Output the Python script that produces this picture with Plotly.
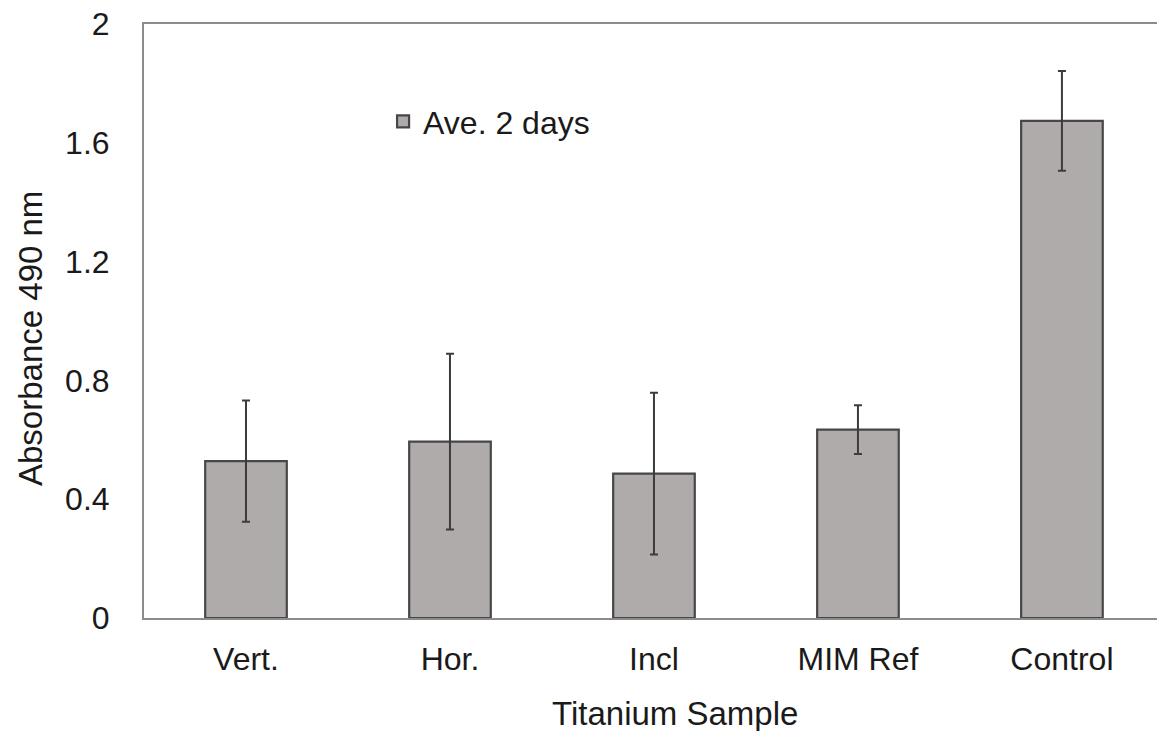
import plotly.graph_objects as go

categories = ["Vert.", "Hor.", "Incl", "MIM Ref", "Control"]
values = [0.528, 0.594, 0.486, 0.634, 1.674]
errors = [0.204, 0.296, 0.272, 0.082, 0.168]
series_name = "Ave. 2 days"
y_ticks = [0, 0.4, 0.8, 1.2, 1.6, 2]
y_tick_labels = ["0", "0.4", "0.8", "1.2", "1.6", "2"]

FONT = "Liberation Sans, Arial, sans-serif"
FS = 32
FT = 33

fig = go.Figure()
fig.add_trace(go.Bar(
    x=categories, y=values, name=series_name,
    width=0.4,
    marker=dict(color="#afabab", line=dict(color="#474747", width=2.2)),
    error_y=dict(type="data", array=errors, visible=True,
                 color="#3c3c3c", thickness=2, width=4),
    showlegend=True,
))

W, H = 1157, 731
L, T, B = 144, 24, 113
pw = W - L
ph = H - T - B

fig.update_layout(
    width=W, height=H,
    margin=dict(l=L, r=0, t=T, b=B),
    paper_bgcolor="white", plot_bgcolor="white",
    font=dict(family=FONT, size=FS, color="#1a1a1a"),
    showlegend=True,
    legend=dict(x=0.236, y=0.882, xanchor="left", yanchor="top",
                bgcolor="rgba(0,0,0,0)", font=dict(size=FS, color="#1a1a1a"),
                itemwidth=30, tracegroupgap=0),
    xaxis=dict(
        range=[-0.5, 4.466], showline=True, mirror=True,
        linecolor="#8c8c8c", linewidth=2, showgrid=False, zeroline=False,
        ticks="", ticklabelstandoff=12, tickfont=dict(size=FS),
    ),
    yaxis=dict(
        range=[0, 2], tickvals=y_ticks, ticktext=y_tick_labels,
        showline=True, mirror=False, linecolor="#8c8c8c", linewidth=2,
        showgrid=False, zeroline=False, ticks="", ticklabelstandoff=26,
        tickfont=dict(size=FS),
    ),
    annotations=[
        dict(text="Titanium Sample", showarrow=False, font=dict(size=FT),
             x=(675 - L) / pw, xref="paper", y=(618 - 713) / ph, yref="paper",
             xanchor="center", yanchor="middle"),
        dict(text="Absorbance 490 nm", showarrow=False, font=dict(size=FT),
             textangle=-90,
             x=(30 - L) / pw, xref="paper", y=(618 - 339) / ph, yref="paper",
             xanchor="center", yanchor="middle"),
    ],
)

fig.write_html("out.html", config={"displayModeBar": False},
               post_script="document.body.style.margin='0';document.body.style.padding='0';")
